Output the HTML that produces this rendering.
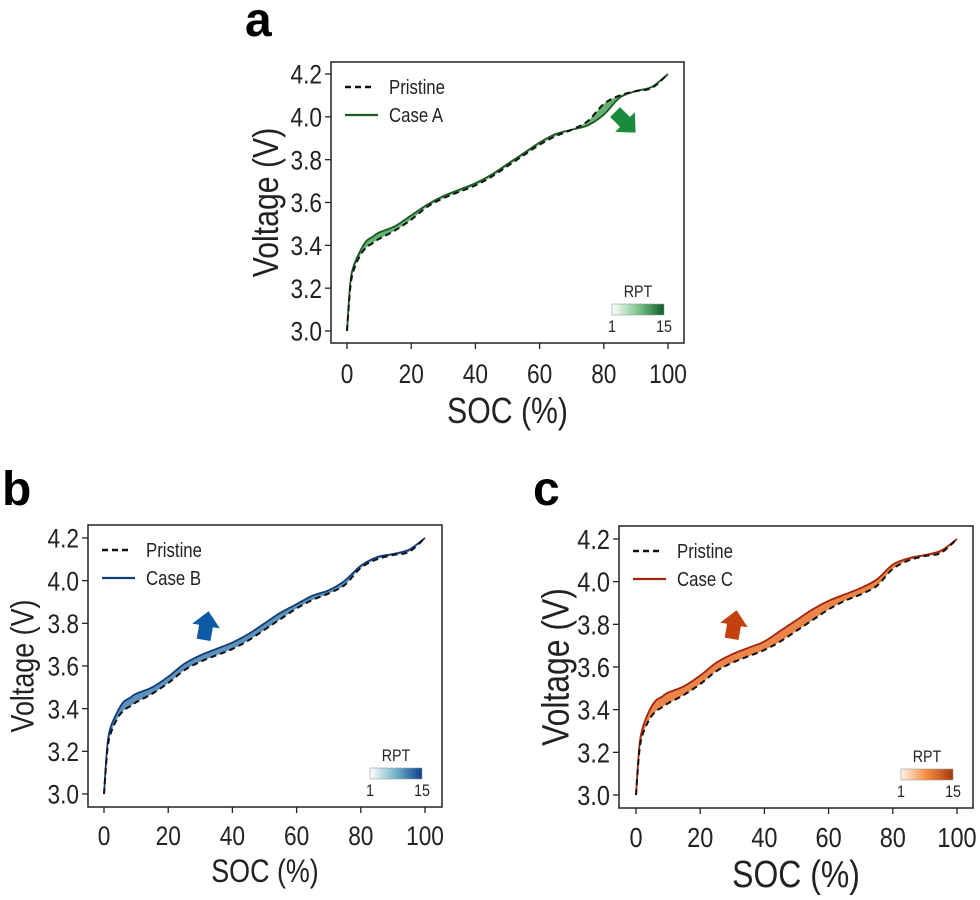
<!DOCTYPE html>
<html><head><meta charset="utf-8"><style>
html,body{margin:0;padding:0;background:#fff;}
svg{display:block;font-family:"Liberation Sans",sans-serif;}
</style></head><body>
<svg id="fig" width="980" height="900" viewBox="0 0 980 900">
<defs>
<linearGradient id="gA" x1="0" x2="1"><stop offset="0" stop-color="#ffffff"/><stop offset="0.5" stop-color="#7cc68a"/><stop offset="1" stop-color="#0b5d2a"/></linearGradient>
<linearGradient id="gB" x1="0" x2="1"><stop offset="0" stop-color="#ffffff"/><stop offset="0.5" stop-color="#6fb3c9"/><stop offset="1" stop-color="#0a3f8c"/></linearGradient>
<linearGradient id="gC" x1="0" x2="1"><stop offset="0" stop-color="#fff3e6"/><stop offset="0.5" stop-color="#f58b3c"/><stop offset="1" stop-color="#a33a0c"/></linearGradient>
</defs>
</svg>
<script>
const soc = [0,1,2,4,6,8,10,15,20,25,30,35,40,45,50,55,60,65,70,75,80,85,90,95,100];
const pristine = [3.0,3.2,3.28,3.35,3.39,3.41,3.43,3.47,3.52,3.58,3.62,3.65,3.68,3.72,3.77,3.82,3.87,3.91,3.94,3.98,4.06,4.10,4.12,4.135,4.2];
const caseA = [3.0,3.22,3.3,3.37,3.42,3.44,3.46,3.49,3.54,3.59,3.63,3.66,3.69,3.73,3.78,3.83,3.88,3.92,3.94,3.96,4.01,4.09,4.12,4.14,4.2];
const caseB = [3.0,3.22,3.31,3.38,3.43,3.45,3.47,3.50,3.55,3.61,3.65,3.68,3.71,3.75,3.80,3.85,3.89,3.93,3.955,4.0,4.07,4.11,4.125,4.145,4.2];
const caseC = [3.0,3.22,3.31,3.39,3.44,3.46,3.48,3.51,3.56,3.62,3.66,3.69,3.72,3.77,3.82,3.87,3.91,3.94,3.97,4.01,4.08,4.11,4.125,4.145,4.2];
const xTicks = [0,20,40,60,80,100];
const yTicks = [3.0,3.2,3.4,3.6,3.8,4.0,4.2];

const svg = document.getElementById('fig');
const NS = 'http://www.w3.org/2000/svg';
function mk(tag, attrs, parent){const e=document.createElementNS(NS,tag);for(const k in attrs)e.setAttribute(k,attrs[k]);(parent||svg).appendChild(e);return e;}
const SX = 0.84;
function ctext(parent, x, y, size, anchor, str, rot){
 const tr = rot ? `translate(${x},${y}) rotate(-90) scale(${SX},1)` : `translate(${x},${y}) scale(${SX},1)`;
 const e = mk('text',{x:0,y:0,'font-size':size,'text-anchor':anchor,fill:'#222',transform:tr},parent);
 e.textContent = str; return e;
}
function smooth(pts){
 let d='M'+pts[0][0]+','+pts[0][1];
 for(let i=0;i<pts.length-1;i++){
  const p0=pts[Math.max(0,i-1)],p1=pts[i],p2=pts[i+1],p3=pts[Math.min(pts.length-1,i+2)];
  const c1x=p1[0]+(p2[0]-p0[0])/6,c1y=p1[1]+(p2[1]-p0[1])/6,c2x=p2[0]-(p3[0]-p1[0])/6,c2y=p2[1]-(p3[1]-p1[1])/6;
  d+=` C${c1x},${c1y} ${c2x},${c2y} ${p2[0]},${p2[1]}`;
 }
 return d;
}

const panels = [
 {id:'a', label:'a', lx:245, ly:36, box:[331,62,684,343], x0:347, x100:668, y30:331, y42:74, tick:27, tickBase:383, axis:36, ytX:265, xlabY:423, series:caseA, name:'Case A', line:'#1e5a25', fill:'#4aa35a', grad:'gA', arrow:'#1a8a3c', arrowX:625, arrowY:122, arrowRot:135},
 {id:'b', label:'b', lx:2, ly:505, box:[88,525,442,807], x0:104, x100:425, y30:794, y42:538, tick:27, tickBase:845, axis:32, ytX:22, xlabY:882, series:caseB, name:'Case B', line:'#123c7a', fill:'#3f7fb0', grad:'gB', arrow:'#0d5aa7', arrowX:206, arrowY:626, arrowRot:10},
 {id:'c', label:'c', lx:533, ly:505, box:[619,526,973,808], x0:636, x100:957, y30:795, y42:539, tick:28, tickBase:847, axis:38, ytX:555, xlabY:887, series:caseC, name:'Case C', line:'#a2240a', fill:'#e8702a', grad:'gC', arrow:'#c2410c', arrowX:734, arrowY:625, arrowRot:10}
];

panels.forEach(p=>{
 const g = mk('g',{});
 
 
 const X = v => p.x0 + (p.x100-p.x0)*v/100;
 const Y = v => p.y30 + (p.y42-p.y30)*(v-3.0)/1.2;
 const pl = mk('text',{x:p.lx,y:p.ly,'font-size':48,'font-weight':'bold'},g); pl.textContent=p.label;
 
 
 const [l,t,r,b]=p.box;
 const frame = mk('rect',{x:l,y:t,width:r-l,height:b-t,fill:'none',stroke:'#222','stroke-width':1.5},g);
 
 
 xTicks.forEach(v=>{
  mk('line',{x1:X(v),x2:X(v),y1:b,y2:b+6,stroke:'#222','stroke-width':1.3},g);
  const tx=ctext(g,X(v),p.tickBase,p.tick,'middle',String(v));
  
  
 });
 yTicks.forEach(v=>{
  mk('line',{x1:l,x2:l-6,y1:Y(v),y2:Y(v),stroke:'#222','stroke-width':1.3},g);
  const ty=ctext(g,l-9,Y(v)+p.tick*0.36,p.tick,'end',v.toFixed(1));
  
  
 });
 const xl=ctext(g,(l+r)/2,p.xlabY,p.axis,'middle','SOC (%)');
 
 
 const yl=ctext(g,p.ytX+p.axis*0.36,(t+b)/2,p.axis,'middle','Voltage (V)',true);
 
 
 const up = soc.map((s,i)=>[X(s),Y(p.series[i])]);
 const lo = soc.map((s,i)=>[X(s),Y(pristine[i])]);
 const loRev = lo.slice().reverse();
 const d = smooth(up) + ' L' + smooth(loRev).slice(1) + ' Z';
 const band=mk('path',{d:d,fill:p.fill,stroke:'none',opacity:0.85},g);
 
 
 const cl=mk('path',{d:smooth(up),fill:'none',stroke:p.line,'stroke-width':1.8},g);
 
 
 const pr=mk('path',{d:smooth(lo),fill:'none',stroke:'#111','stroke-width':2,'stroke-dasharray':'6 4'},g);
 
 
 const lg=mk('g',{},g);
 
 
 mk('line',{x1:l+14,x2:l+44,y1:t+25,y2:t+25,stroke:'#111','stroke-width':2.4,'stroke-dasharray':'6 4'},lg);
 ctext(lg,l+58,t+32,20,'start','Pristine');
 mk('line',{x1:l+14,x2:l+47,y1:t+53,y2:t+53,stroke:p.line,'stroke-width':2.2},lg);
 ctext(lg,l+58,t+60,20,'start',p.name);
 const cbx=r-72, cby=b-39;
 const cb=mk('rect',{x:cbx,y:cby,width:52,height:11,fill:`url(#${p.grad})`,stroke:'#999','stroke-width':0.6},g);
 
 
 ctext(g,cbx+26,cby-7,17,'middle','RPT');
 ctext(g,cbx,cby+28,17,'middle','1');
 ctext(g,cbx+52,cby+28,17,'middle','15');
 const ar=mk('path',{d:'M-7,14 L-7,0 L-14,0 L0,-15 L14,0 L7,0 L7,14 Z',fill:p.arrow,transform:`translate(${p.arrowX},${p.arrowY}) rotate(${p.arrowRot})`},g);
 
 
});
</script>
</body></html>
